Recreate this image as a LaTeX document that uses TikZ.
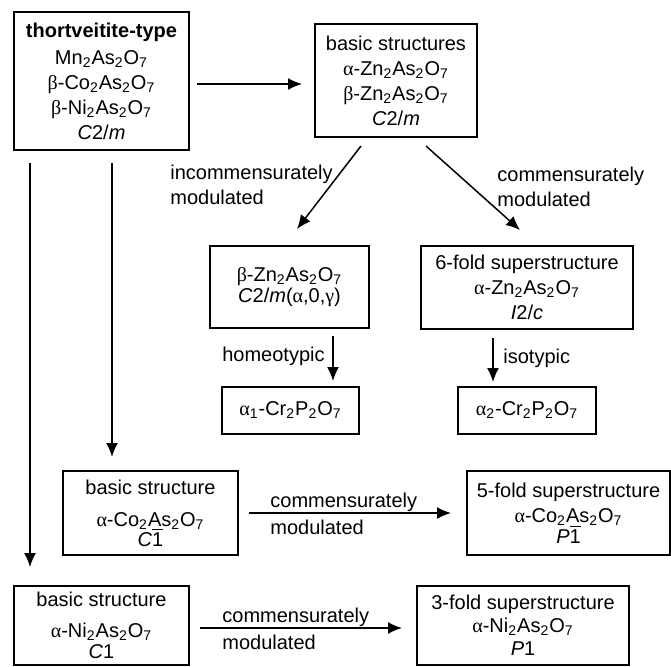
\documentclass[tikz,border=0pt]{standalone}
\usepackage{fontspec}
\setmainfont{Liberation Sans}
\newfontfamily\grfont{Liberation Serif}
\usepackage{tikz}
\usetikzlibrary{positioning,calc,arrows.meta}
\newcommand{\grA}{{\grfont α}}
\newcommand{\grB}{{\grfont β}}
\newcommand{\grG}{{\grfont γ}}
\newcommand{\sbs}[1]{\textsubscript{#1}}
\tikzset{
  every node/.style={font=\fontsize{10}{12.5}\selectfont},
  box/.style={draw=black,line width=1pt,inner sep=0pt,align=center},
  link/.style={line width=0.75pt,draw=black,-{Latex[length=7pt,width=6pt]}},
  lab/.style={inner sep=0pt,align=left}
}

\begin{document}
\begin{tikzpicture}[x=0.5pt,y=-0.5pt]
      \useasboundingbox (0,0) rectangle (671,666);
      \node[box,minimum width=87.5pt,minimum height=69pt] (thort) at (101.5,81)
        {\textbf{thortveitite-type}\\[1pt]Mn\sbs2As\sbs2O\sbs7\\\grB-Co\sbs2As\sbs2O\sbs7\\\grB-Ni\sbs2As\sbs2O\sbs7\\\textit{C}2/\textit{m}};
      \node[box,minimum width=81pt,minimum height=56.5pt] (basic) at (396,80.5)
        {basic structures\\\grA-Zn\sbs2As\sbs2O\sbs7\\\grB-Zn\sbs2As\sbs2O\sbs7\\\textit{C}2/\textit{m}};
      \node[box,minimum width=79.5pt,minimum height=41pt] (incomm) at (289.5,287)
        {\mbox{}\\[-5pt]\grB-Zn\sbs2As\sbs2O\sbs7\\[-2pt]\textit{C}2/\textit{m}(\grA,0,\grG)};
      \node[box,minimum width=106pt,minimum height=41.5pt] (sixfold) at (527,287.5)
        {6-fold superstructure\\\grA-Zn\sbs2As\sbs2O\sbs7\\\textit{I}2/\textit{c}};
      \node[box,minimum width=68.5pt,minimum height=23.5pt] (cra) at (290.5,410.5)
        {\grA\sbs1-Cr\sbs2P\sbs2O\sbs7};
      \node[box,minimum width=69pt,minimum height=23.5pt] (crb) at (527,410.5)
        {\grA\sbs2-Cr\sbs2P\sbs2O\sbs7};
      \node[box,minimum width=87.5pt,minimum height=42pt] (cobasic) at (150.5,513)
        {basic structure\\[3.5pt]\grA-Co\sbs2As\sbs2O\sbs7\\[-2.5pt]\textit{C}$\overline{\mbox{1}}$};
      \node[box,minimum width=101.5pt,minimum height=42pt] (cofive) at (568.5,513)
        {5-fold superstructure\\\grA-Co\sbs2As\sbs2O\sbs7\\[-2pt]\textit{P}$\overline{\mbox{1}}$};
      \node[box,minimum width=87.5pt,minimum height=39.5pt] (nibasic) at (101.5,625.5)
        {basic structure\\[3pt]\grA-Ni\sbs2As\sbs2O\sbs7\\[-2pt]\textit{C}1};
      \node[box,minimum width=106pt,minimum height=39.5pt] (nithree) at (523,625.5)
        {3-fold superstructure\\[-1pt]\grA-Ni\sbs2As\sbs2O\sbs7\\[-1pt]\textit{P}1};
      % connectors
      \draw[link] ($(thort.east)+(7,3)$) -- ($(basic.west)+(-12,3.5)$);
      \draw[link] ($(basic.south)+(-35,8)$) -- ($(incomm.north)+(7.5,-16)$);
      \draw[link] ($(basic.south)+(30,8)$) -- ($(sixfold.north)+(-7,-15)$);
      \draw[link] ($(incomm.south)+(43.5,7)$) -- ($(cra.north)+(42.5,-5)$);
      \draw[link] ($(sixfold.south)+(-34,8)$) -- ($(crb.north)+(-34,-4)$);
      \draw[link] ($(thort.south)+(10.5,12)$) -- ($(cobasic.north)+(-38.5,-13)$);
      \draw[link] ($(thort.south)+(-71.5,12)$) -- ($(nibasic.north)+(-71.5,-18)$);
      \draw[link] ($(cobasic.east)+(10,0)$) -- ($(cofive.west)+(-15,0)$);
      \draw[link] ($(nibasic.east)+(10,2.5)$) -- ($(nithree.west)+(-14,2.5)$);
      % labels
      \node[lab,anchor=west] (incommlab) at (170,185) {incommensurately\\modulated};
      \node[lab,anchor=west] (commlab) at (497,187) {commensurately\\modulated};
      \node[lab,anchor=east] (homeolab) at (325,356) {homeotypic};
      \node[lab,anchor=west] (isolab) at (503,358) {isotypic};
      \node[lab,anchor=west] (colab) at (270,514) {commensurately\\[1pt]modulated};
      \node[lab,anchor=west] (nilab) at (222,629) {commensurately\\[1pt]modulated};
\end{tikzpicture}
\end{document}
